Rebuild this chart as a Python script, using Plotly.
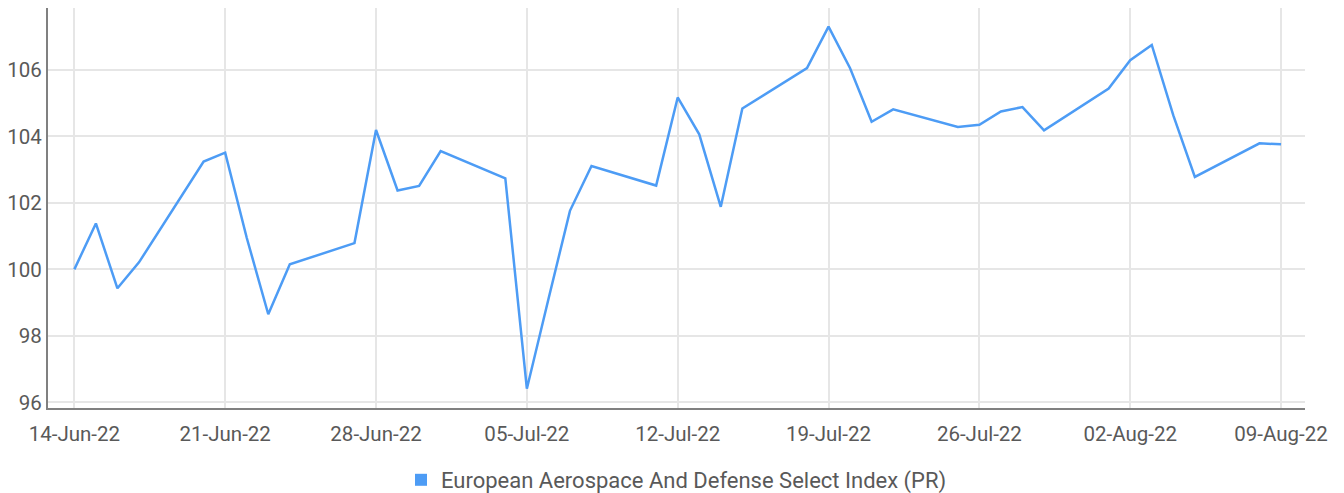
import plotly.graph_objects as go

dates = [
    "2022-06-14", "2022-06-15", "2022-06-16", "2022-06-17",
    "2022-06-20", "2022-06-21", "2022-06-22", "2022-06-23", "2022-06-24",
    "2022-06-27", "2022-06-28", "2022-06-29", "2022-06-30", "2022-07-01",
    "2022-07-04", "2022-07-05", "2022-07-06", "2022-07-07", "2022-07-08",
    "2022-07-11", "2022-07-12", "2022-07-13", "2022-07-14", "2022-07-15",
    "2022-07-18", "2022-07-19", "2022-07-20", "2022-07-21", "2022-07-22",
    "2022-07-25", "2022-07-26", "2022-07-27", "2022-07-28", "2022-07-29",
    "2022-08-01", "2022-08-02", "2022-08-03", "2022-08-04", "2022-08-05",
    "2022-08-08", "2022-08-09",
]
index_values = [
    100.00, 101.38, 99.43, 100.21,
    103.24, 103.51, 100.95, 98.65, 100.15,
    100.79, 104.19, 102.37, 102.51, 103.56,
    102.74, 96.41, 99.10, 101.76, 103.11,
    102.52, 105.17, 104.06, 101.88, 104.84,
    106.05, 107.30, 106.05, 104.44, 104.81,
    104.28, 104.35, 104.75, 104.88, 104.18,
    105.44, 106.29, 106.75, 104.63, 102.78,
    103.79, 103.76,
]
series_name = "European Aerospace And Defense Select Index (PR)"
x_tick_values = ["2022-06-14", "2022-06-21", "2022-06-28", "2022-07-05",
                 "2022-07-12", "2022-07-19", "2022-07-26", "2022-08-02",
                 "2022-08-09"]
x_tick_labels = ["14-Jun-22", "21-Jun-22", "28-Jun-22", "05-Jul-22",
                 "12-Jul-22", "19-Jul-22", "26-Jul-22", "02-Aug-22",
                 "09-Aug-22"]
y_tick_values = [96, 98, 100, 102, 104, 106]

FONT = "Roboto, 'Liberation Sans', sans-serif"
TEXT = "#595959"
GRID = "#e6e6e6"
AXIS = "#808080"
LINE = "#4d9cf5"

fig = go.Figure()
fig.add_trace(go.Scatter(
    x=dates, y=index_values, mode="lines", name=series_name,
    line=dict(color=LINE, width=2.5), showlegend=False,
))
# legend entry with a square swatch
fig.add_trace(go.Scatter(
    x=[None], y=[None], mode="markers", name=series_name,
    marker=dict(symbol="square", size=11, color=LINE), showlegend=True,
))

fig.update_layout(
    width=1344, height=493,
    margin=dict(l=48, r=39, t=8, b=85, autoexpand=False),
    paper_bgcolor="white", plot_bgcolor="white",
    font=dict(family=FONT, size=20, color=TEXT),
    showlegend=True,
    legend=dict(orientation="h", x=0.5, xanchor="center", y=-0.18,
                yanchor="middle", font=dict(size=22, color=TEXT),
                itemsizing="constant"),
)
fig.update_xaxes(
    type="date", automargin=False,
    range=["2022-06-12 18:40", "2022-08-10 02:40"],
    tickvals=x_tick_values, ticktext=x_tick_labels,
    showgrid=True, gridcolor=GRID, gridwidth=2,
    showline=True, linecolor=AXIS, linewidth=2,
    ticks="", zeroline=False, ticklabelstandoff=6,
    tickfont=dict(size=20.5, color=TEXT),
)
fig.update_yaxes(
    automargin=False,
    range=[95.83, 107.86],
    tickvals=y_tick_values,
    showgrid=True, gridcolor=GRID, gridwidth=2,
    showline=True, linecolor=AXIS, linewidth=2,
    ticks="", zeroline=False,
    tickfont=dict(size=20.5, color=TEXT),
)

# remove the default page margin so the figure fills the window exactly
fig.write_html(
    "out.html",
    config={"displayModeBar": False},
    post_script="document.body.style.margin='0px';"
                "document.body.style.overflow='hidden';",
)
